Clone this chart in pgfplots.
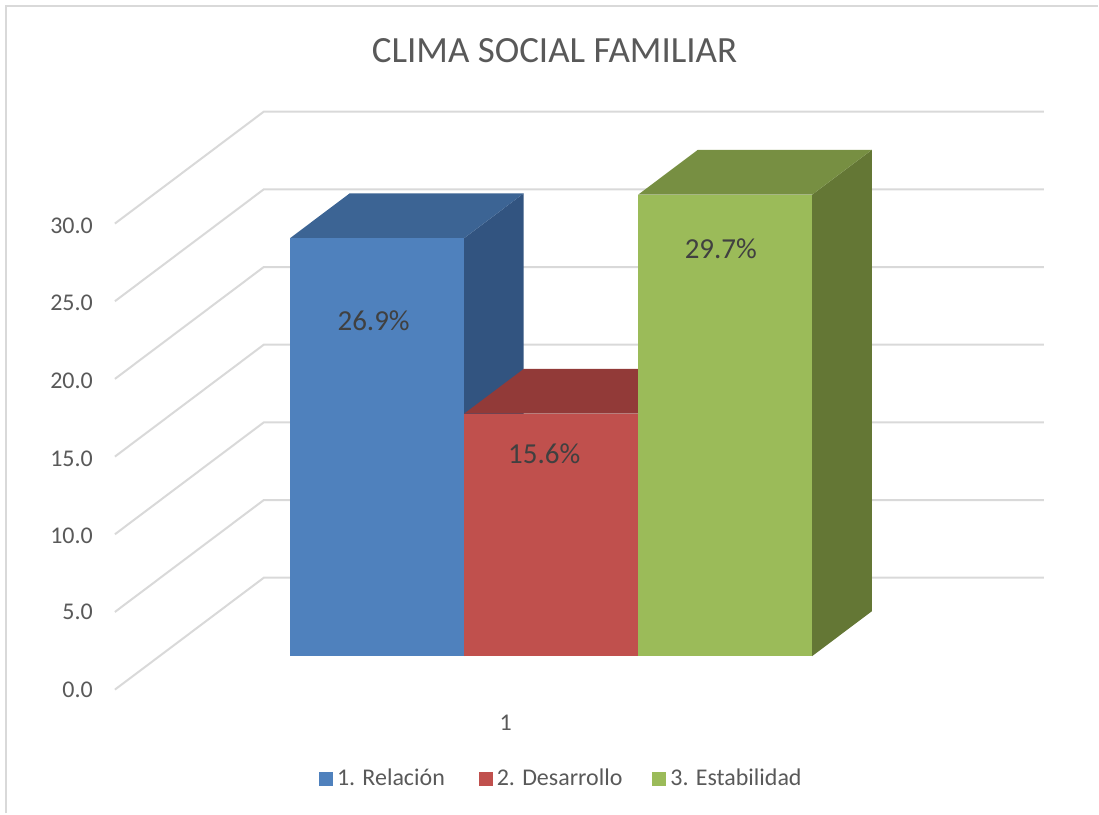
\documentclass[border=0pt]{standalone}
\usepackage{fontspec}
\setmainfont{Carlito}
\usepackage{pgfplots}
\pgfplotsset{compat=1.18}
\definecolor{gridc}{HTML}{D9D9D9}
\definecolor{txt}{HTML}{595959}
\definecolor{blueF}{HTML}{4F81BD}
\definecolor{blueT}{HTML}{3C6494}
\definecolor{blueS}{HTML}{325480}
\definecolor{redF}{HTML}{C0504D}
\definecolor{redT}{HTML}{923A38}
\definecolor{greenF}{HTML}{9BBB59}
\definecolor{greenT}{HTML}{778F42}
\definecolor{greenS}{HTML}{647735}
\begin{document}
\begin{tikzpicture}
\begin{axis}[
  x={(87.1pt,0pt)}, y={(74.5pt,56pt)}, z={(0pt,7.775pt)},
  xmin=0, xmax=4.483, ymin=0, ymax=1, zmin=0, zmax=30,
  clip=false,
  axis line style={draw=none},
  major tick length=0pt,
  tick style={draw=none},
  xtick={2.253}, xticklabels={1},
  ytick=\empty,
  ztick={0,5,10,15,20,25,30},
  zticklabel pos=left,
  /pgf/number format/assume math mode=true,
  /pgf/number format/.cd, fixed, fixed zerofill, precision=1, /pgfplots/.cd,
  tick label style={font=\fontsize{12}{14}\selectfont, text=txt},
  z tick label style={xshift=-7.5pt, yshift=3.75pt},
  x tick label style={xshift=3pt, yshift=-9pt},
  legend style={at={(axis cs:2.571,0,-5.75)}, anchor=center, draw=none, fill=none,
    font=\fontsize{12}{14}\selectfont, text=txt, inner sep=0pt, outer sep=0pt,
    /tikz/column 2/.style={column sep=15pt},
    /tikz/column 4/.style={column sep=13pt}},
  legend columns=3,
  legend image code/.code={\path[#1, draw=none] (0pt,-3.5pt) rectangle (7pt,3.5pt);},
  every axis title shift=0pt,
  title={CLIMA SOCIAL FAMILIAR},
  title style={at={(axis cs:2.526,0,41.1)}, anchor=center, font=\fontsize{18.5}{20}\selectfont, text=txt},
]
% page extent and chart frame
\path (axis cs:-0.6602,0,-7.956) rectangle (axis cs:5.6487,0,44.39);
\draw[gridc, line width=1pt] (axis cs:-0.6257,0,-7.956) -- (axis cs:-0.6257,0,43.99) -- (axis cs:5.6487,0,43.99);
% grid lines on the walls
\addplot3[gridc, line width=1pt, forget plot] coordinates {(0,0,0) (0,1,0) (4.483,1,0)};
\addplot3[gridc, line width=1pt, forget plot] coordinates {(0,0,5) (0,1,5) (4.483,1,5)};
\addplot3[gridc, line width=1pt, forget plot] coordinates {(0,0,10) (0,1,10) (4.483,1,10)};
\addplot3[gridc, line width=1pt, forget plot] coordinates {(0,0,15) (0,1,15) (4.483,1,15)};
\addplot3[gridc, line width=1pt, forget plot] coordinates {(0,0,20) (0,1,20) (4.483,1,20)};
\addplot3[gridc, line width=1pt, forget plot] coordinates {(0,0,25) (0,1,25) (4.483,1,25)};
\addplot3[gridc, line width=1pt, forget plot] coordinates {(0,0,30) (0,1,30) (4.483,1,30)};
% 1. Relacion = 26.9
\addplot3[fill=blueS, draw=none, forget plot] coordinates {(1.75,0.3,0) (1.75,0.7,0) (1.75,0.7,26.9) (1.75,0.3,26.9)};
\addplot3[fill=blueT, draw=none, forget plot] coordinates {(0.75,0.3,26.9) (1.75,0.3,26.9) (1.75,0.7,26.9) (0.75,0.7,26.9)};
\addplot3[fill=blueF, draw=none] coordinates {(0.75,0.3,0) (1.75,0.3,0) (1.75,0.3,26.9) (0.75,0.3,26.9)};
\addlegendentry{1. Relación}
% 2. Desarrollo = 15.6
\addplot3[fill=redT, draw=none, forget plot] coordinates {(1.75,0.3,15.6) (2.75,0.3,15.6) (2.75,0.7,15.6) (1.75,0.7,15.6)};
\addplot3[fill=redF, draw=none] coordinates {(1.75,0.3,0) (2.75,0.3,0) (2.75,0.3,15.6) (1.75,0.3,15.6)};
\addlegendentry{2. Desarrollo}
% 3. Estabilidad = 29.7
\addplot3[fill=greenS, draw=none, forget plot] coordinates {(3.75,0.3,0) (3.75,0.7,0) (3.75,0.7,29.7) (3.75,0.3,29.7)};
\addplot3[fill=greenT, draw=none, forget plot] coordinates {(2.75,0.3,29.7) (3.75,0.3,29.7) (3.75,0.7,29.7) (2.75,0.7,29.7)};
\addplot3[fill=greenF, draw=none] coordinates {(2.75,0.3,0) (3.75,0.3,0) (3.75,0.3,29.7) (2.75,0.3,29.7)};
\addlegendentry{3. Estabilidad}
% data labels
\node[font=\fontsize{14.5}{16}\selectfont, text=black!75] at (axis cs:1.23,0.3,21.59) {26.9\%};
\node[font=\fontsize{14.5}{16}\selectfont, text=black!75] at (axis cs:2.21,0.3,13.05) {15.6\%};
\node[font=\fontsize{14.5}{16}\selectfont, text=black!75] at (axis cs:3.225,0.3,26.25) {29.7\%};
\end{axis}
\end{tikzpicture}
\end{document}
